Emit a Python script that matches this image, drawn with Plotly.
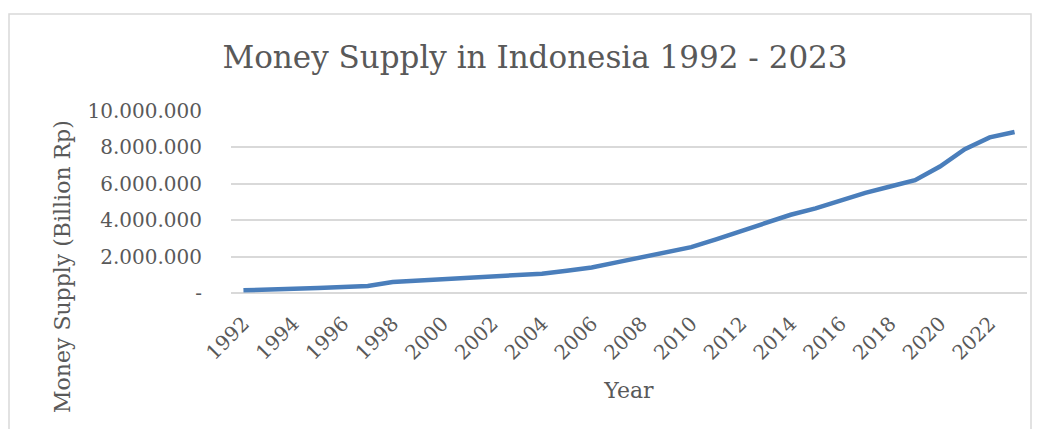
import plotly.graph_objects as go

years = list(range(1992, 2024))
money_supply = [150000, 175000, 220000, 275000, 330000, 390000, 600000, 680000,
                760000, 860000, 900000, 960000, 1060000, 1220000, 1400000, 1680000,
                1950000, 2200000, 2520000, 2950000, 3380000, 3850000, 4300000, 4650000,
                5100000, 5500000, 5850000, 6200000, 6950000, 7900000, 8550000, 8850000]
y_tick_vals = [0, 2000000, 4000000, 6000000, 8000000, 10000000]
y_tick_text = ["-", "2.000.000", "4.000.000", "6.000.000", "8.000.000", "10.000.000"]
x_tick_vals = [str(y) for y in range(1992, 2024, 2)]

FONT = "DejaVu Serif"
GREY = "#595959"

W, H = 1044, 429
L, R, T, B = 231, 1027, 111, 293
pw, ph = R - L, B - T

fig = go.Figure()
fig.add_trace(go.Scatter(
    x=[str(y) for y in years], y=money_supply, mode="lines",
    line=dict(color="#4a7ebb", width=4.5), hoverinfo="x+y"))

fig.update_layout(
    width=W, height=H,
    margin=dict(l=L, r=W - R, t=T, b=H - B),
    paper_bgcolor="white", plot_bgcolor="white",
    showlegend=False,
    font=dict(family=FONT, color=GREY, size=20),
    title=dict(text="Money Supply in Indonesia 1992 - 2023", x=535 / W, xanchor="center",
               y=1 - 57 / H, yanchor="middle",
               font=dict(family=FONT, size=31, color=GREY)),
    xaxis=dict(type="category", range=[-0.5, len(years) - 0.5],
               tickmode="array", tickvals=x_tick_vals, ticktext=x_tick_vals,
               tickangle=-45, showgrid=False, showline=False, ticks="",
               ticklabelstandoff=14,
               tickfont=dict(size=20, color=GREY),
               title=dict(text="Year", font=dict(size=22, color=GREY), standoff=18)),
    yaxis=dict(range=[0, 10000000], tickmode="array", tickvals=y_tick_vals,
               ticktext=y_tick_text, showgrid=True, gridcolor="#d9d9d9", gridwidth=1.5,
               zeroline=True, zerolinecolor="#d9d9d9", zerolinewidth=1.5,
               ticks="", ticklabelstandoff=28,
               tickfont=dict(size=20, color=GREY)),
)

fig.add_annotation(text="Money Supply (Billion Rp)", xref="paper", yref="paper",
                   x=(62 - L) / pw, y=(B - 267) / ph, textangle=-90,
                   showarrow=False, xanchor="center", yanchor="middle",
                   font=dict(family=FONT, size=22, color=GREY))

fig.add_shape(type="rect", xref="paper", yref="paper",
              x0=(9 - L) / pw, x1=(1031 - L) / pw,
              y0=(B - 440) / ph, y1=(B - 14) / ph,
              line=dict(color="#d9d9d9", width=1.5), fillcolor="rgba(0,0,0,0)",
              layer="below")

fig.write_html("out.html")
